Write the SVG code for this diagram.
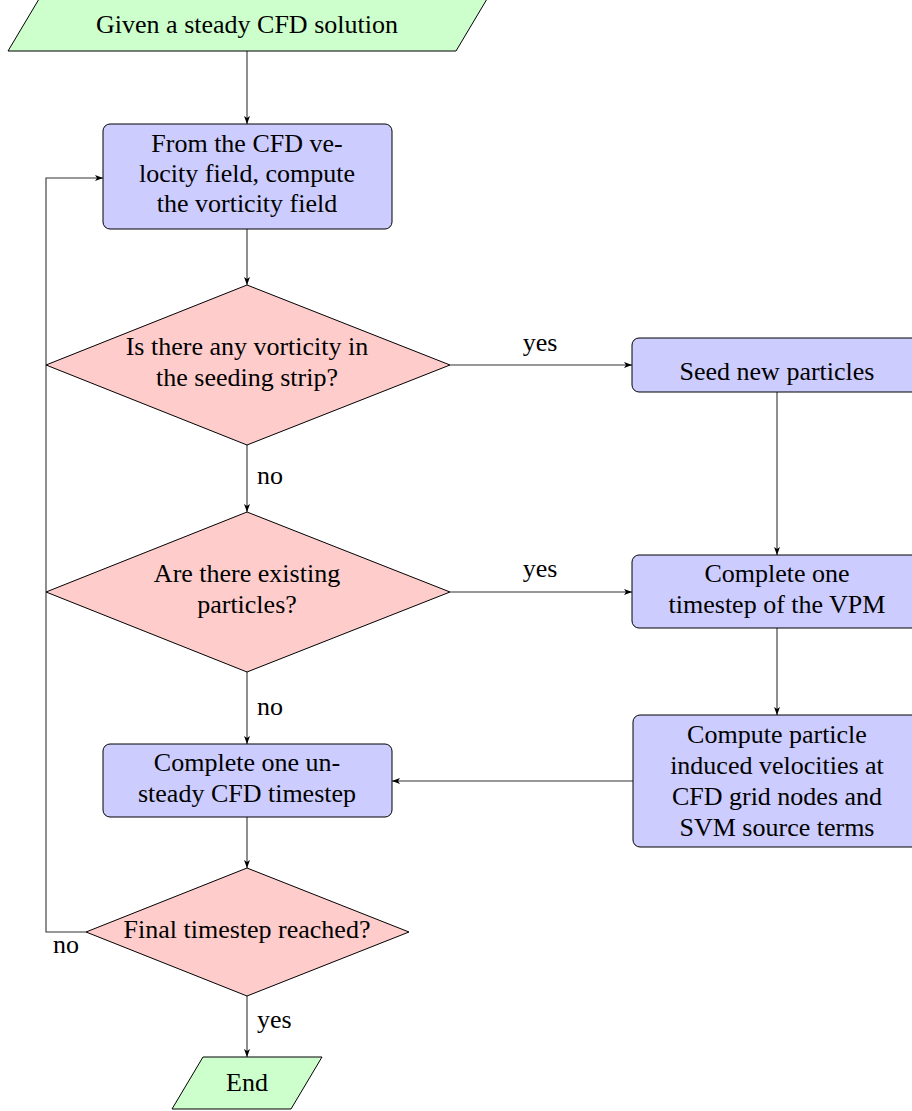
<svg xmlns="http://www.w3.org/2000/svg" width="912" height="1111" viewBox="0 0 912 1111">
<style>
text{font-family:"Liberation Serif","Times New Roman",serif;font-size:26px;fill:#000}
.c{text-anchor:middle}
.io{fill:#ccffcc;stroke:#000;stroke-width:1}
.pr{fill:#ccccff;stroke:#000;stroke-width:1}
.dc{fill:#ffcccc;stroke:#000;stroke-width:1}
.ln{fill:none;stroke:#333;stroke-width:1.1;marker-end:url(#ah)}
</style>
<defs>
<marker id="ah" viewBox="0 0 8 6" refX="8" refY="3" markerWidth="8" markerHeight="6" orient="auto" markerUnits="userSpaceOnUse">
<path d="M0,0 L8,3 L0,6 L2,3 z" fill="#000"/>
</marker>
</defs>
<rect width="912" height="1111" fill="#fff"/>
<g id="connectors">
<path class="ln" d="M247,51 V124"/>
<path class="ln" d="M247,229 V285"/>
<path class="ln" d="M450,365 H632"/>
<path class="ln" d="M247,445 V512"/>
<path class="ln" d="M777,392 V555"/>
<path class="ln" d="M450,592 H632"/>
<path class="ln" d="M777,628 V715"/>
<path class="ln" d="M247,672 V744"/>
<path class="ln" d="M633,781 H392"/>
<path class="ln" d="M247,817 V868"/>
<path class="ln" d="M86,932 H46 V178 H103"/>
<path class="ln" d="M247,996 V1057"/>
<text x="540" y="351" class="c">yes</text>
<text x="257" y="484">no</text>
<text x="540" y="577" class="c">yes</text>
<text x="257" y="715">no</text>
<text x="53" y="953">no</text>
<text x="257" y="1028">yes</text>
</g>
<g id="start">
<polygon class="io" points="39,-1 487,-1 456,51 8,51"/>
<text x="247" y="33" class="c">Given a steady CFD solution</text>
</g>
<g id="vorticity">
<rect class="pr" x="103" y="124" width="289" height="105" rx="7"/>
<text x="247" y="152" class="c">From the CFD ve-</text>
<text x="247" y="182" class="c">locity field, compute</text>
<text x="247" y="212" class="c">the vorticity field</text>
</g>
<g id="decision1">
<polygon class="dc" points="247,285 450,365 247,445 46,365"/>
<text x="247" y="355" class="c">Is there any vorticity in</text>
<text x="247" y="386" class="c">the seeding strip?</text>
</g>
<g id="seed">
<rect class="pr" x="632" y="338" width="290" height="54" rx="7"/>
<text x="777" y="380" class="c">Seed new particles</text>
</g>
<g id="decision2">
<polygon class="dc" points="247,512 450,592 247,672 46,592"/>
<text x="247" y="582" class="c">Are there existing</text>
<text x="247" y="613" class="c">particles?</text>
</g>
<g id="vpm">
<rect class="pr" x="632" y="555" width="290" height="73" rx="7"/>
<text x="777" y="582" class="c">Complete one</text>
<text x="777" y="613" class="c">timestep of the VPM</text>
</g>
<g id="induced">
<rect class="pr" x="633" y="715" width="289" height="132" rx="7"/>
<text x="777" y="743" class="c">Compute particle</text>
<text x="777" y="774" class="c">induced velocities at</text>
<text x="777" y="805" class="c">CFD grid nodes and</text>
<text x="777" y="836" class="c">SVM source terms</text>
</g>
<g id="unsteady">
<rect class="pr" x="103" y="744" width="289" height="73" rx="7"/>
<text x="247" y="771" class="c">Complete one un-</text>
<text x="247" y="802" class="c">steady CFD timestep</text>
</g>
<g id="decision3">
<polygon class="dc" points="247,868 409,932 247,996 86,932"/>
<text x="247" y="938" class="c">Final timestep reached?</text>
</g>
<g id="end">
<polygon class="io" points="203,1057 322,1057 291,1109 172,1109"/>
<text x="247" y="1091" class="c">End</text>
</g>
</svg>
